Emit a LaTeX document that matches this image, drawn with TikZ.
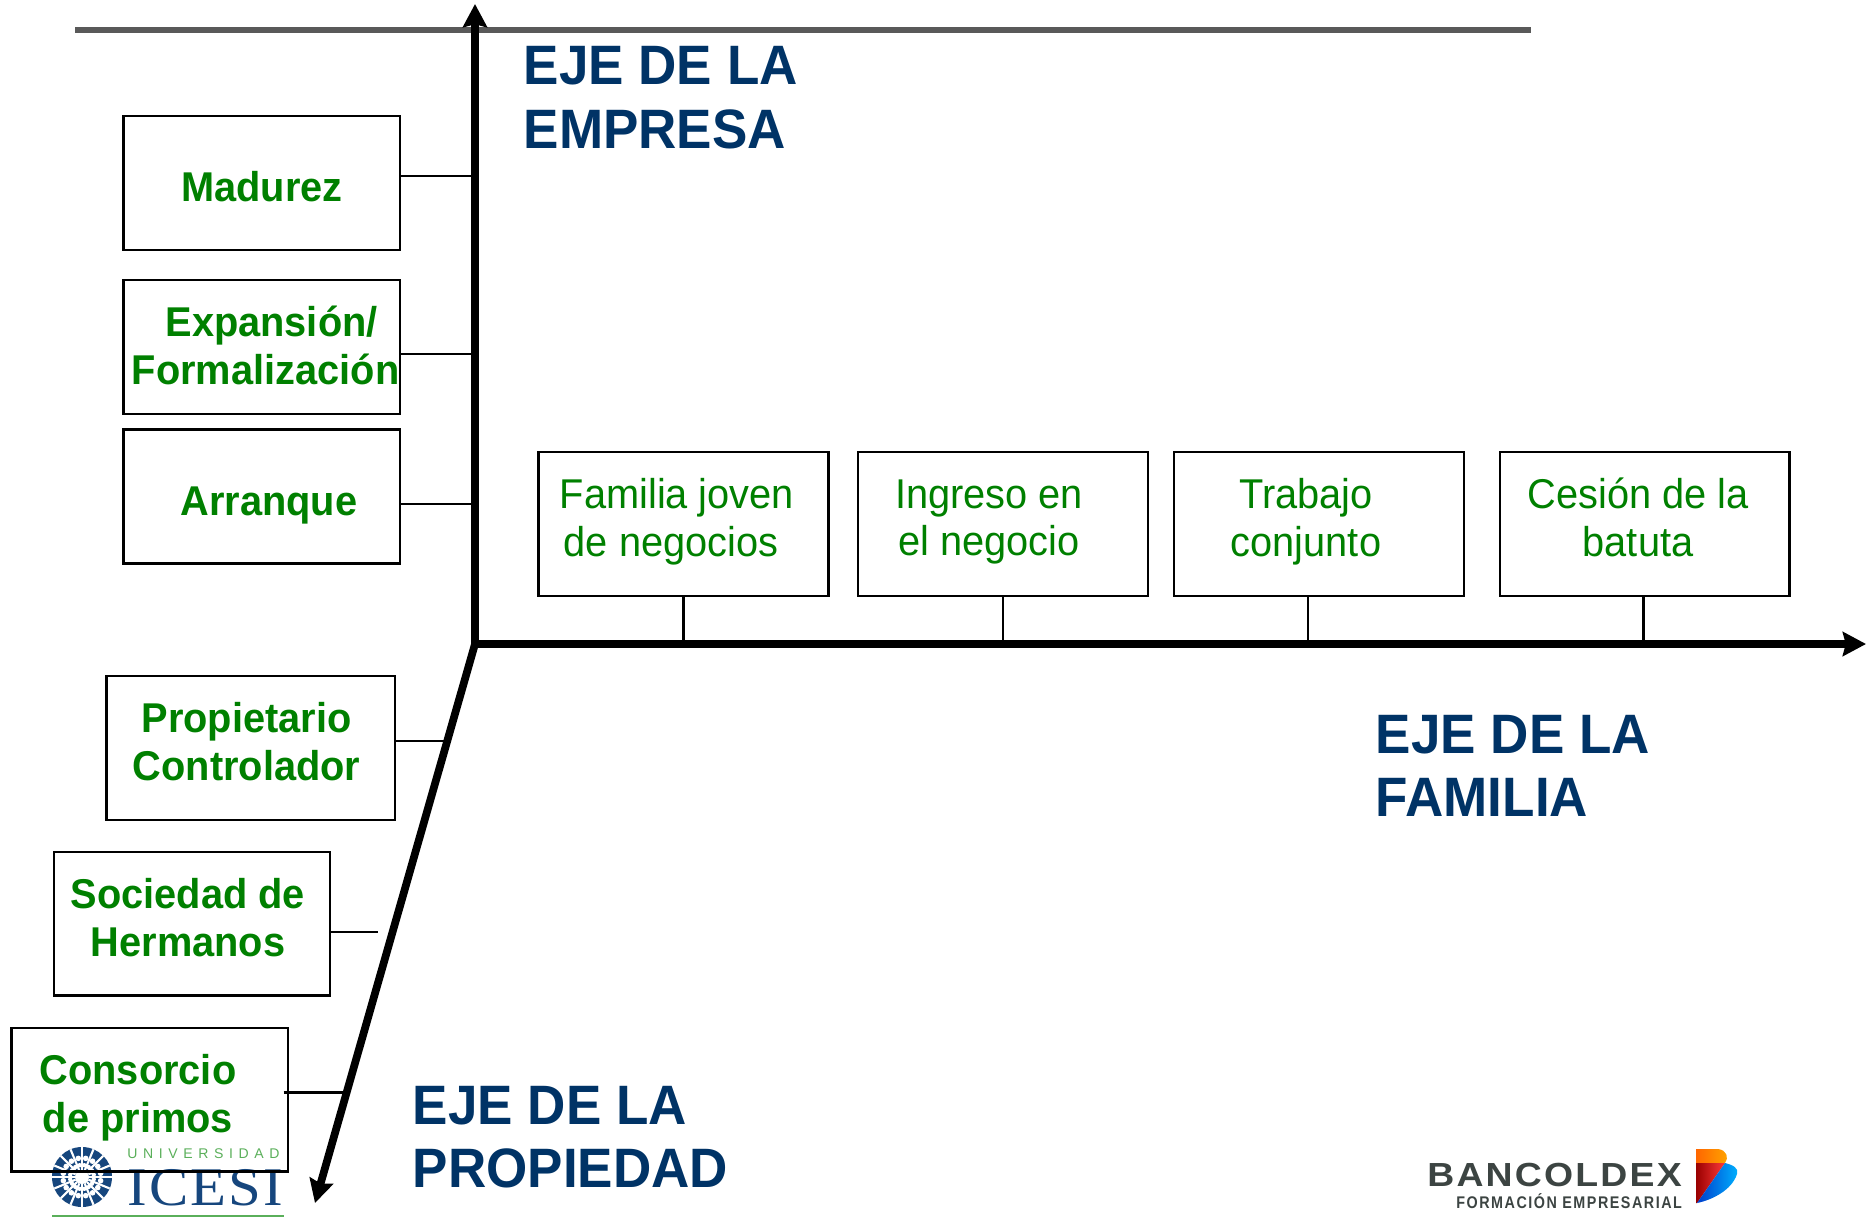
\documentclass[tikz,border=0pt]{standalone}
\usepackage{fontspec}
\setmainfont[FakeStretch=0.955]{Liberation Sans}
\newfontfamily\bancofont[LetterSpace=6.6,FakeStretch=1.12]{Liberation Sans}
\newfontfamily\formafont[LetterSpace=9,FakeStretch=0.85]{Liberation Sans}
\newfontfamily\univfont[LetterSpace=40]{Liberation Sans}
\newfontfamily\icesifont[LetterSpace=4,FakeStretch=1.08]{Liberation Serif}
\usetikzlibrary{arrows.meta,positioning}

\definecolor{ejeazul}{RGB}{0,51,102}
\definecolor{ejeverde}{RGB}{0,128,0}
\definecolor{lineagris}{RGB}{89,89,89}
\definecolor{icesiazul}{RGB}{22,70,125}
\definecolor{icesiverde}{RGB}{90,175,90}
\definecolor{bancogris}{RGB}{60,68,66}

\tikzset{
    etapa/.style={draw, line width=1.35pt, minimum width=157.3pt, minimum height=76.3pt, inner sep=0pt},
    etapafam/.style={draw, line width=1.35pt, minimum width=164.9pt, minimum height=81.8pt, inner sep=0pt},
    textob/.style={text=ejeverde, font=\fontsize{23.7}{27.3}\selectfont\bfseries, align=center, inner sep=0pt},
    textof/.style={text=ejeverde, font=\fontsize{23.7}{27.3}\selectfont, align=center, inner sep=0pt},
    ejetexto/.style={text=ejeazul, font=\fontsize{31.6}{36.1}\selectfont\bfseries, align=left, anchor=west, inner sep=0pt},
    punta/.style={-{Stealth[length=13.2pt, width=13.7pt, inset=1.7pt]}},
    eje/.style={line width=4.55pt, line cap=rect, punta},
    conector/.style={line width=1.35pt}
}

\begin{document}
\begin{tikzpicture}[x=0.02cm, y=-0.02cm]
        \useasboundingbox (0,0) rectangle (1876,1217);

        % logo icesi
        \fill[icesiazul] (82,1177) circle (30);
        \foreach \a in {0,22.5,...,337.5} {
            \draw[white, line width=1.2pt] (82,1177) ++(\a:7) -- ++(\a:23);
            \fill[white] (82,1177) ++(\a+11.25:19) circle (2.8);
            \fill[white] (82,1177) ++(\a+11.25:12) circle (2.2);
        }
        \fill[white] (82,1177) circle (7);
        \node[text=icesiverde, font=\fontsize{8}{9}\univfont, anchor=west, inner sep=0pt] (univ) at (127,1154) {UNIVERSIDAD};
        \node[text=icesiazul, font=\fontsize{31}{31}\icesifont, anchor=west, inner sep=0pt] (icesi) at (127,1187.5) {ICESI};
        \draw[icesiverde, line width=1.2pt] (52,1216) -- (284,1216);

        % logo bancoldex
        \node[text=bancogris, font=\fontsize{19}{20}\bancofont\bfseries, anchor=west, inner sep=0pt] (banco) at (1427,1175) {BANCOLDEX};
        \node[text=bancogris, font=\fontsize{9.6}{11}\formafont\bfseries, anchor=west, inner sep=0pt] (forma) at (1456,1201) {FORMACIÓN EMPRESARIAL};
        \shade[left color=orange!80!red, right color=orange!70!yellow] (1696,1149) -- (1718,1149) .. controls (1727,1150) and (1729,1158) .. (1725,1163) -- (1696,1163) -- cycle;
        \shade[left color=red!60!black, right color=red!70!pink] (1696,1163) -- (1725,1163) -- (1697,1203) -- (1696,1203) -- cycle;
        \shade[left color=blue!70!cyan!80!black, right color=cyan!70!blue] (1725,1163) .. controls (1733,1165) and (1739,1168) .. (1737,1174) .. controls (1732,1190) and (1712,1200) .. (1697,1203) -- cycle;

        % ejes
        \coordinate (origen) at (475,644);
        \coordinate (ejearriba) at (475,4);
        \coordinate (ejederecha) at (1866,644);
        \coordinate (ejeabajo) at (315,1203);
        \coordinate (grisizq) at (75.4,29.7);
        \coordinate (grisder) at (1531,29.7);

        \draw[lineagris, line width=3.4pt] (grisizq) -- (grisder);
        \draw[eje] (origen) -- (ejearriba);
        \draw[eje] (origen) -- (ejederecha);
        \draw[eje, line width=4.4pt] (origen) -- (ejeabajo);

        % eje de la empresa
        \node[etapa] (madurez) at (261.5,183) {};
        \node[etapa] (expansion) at (261.5,347) {};
        \node[etapa] (arranque) at (261.5,496.6) {};
        \node[textob] (tmadurez) at (262,187) {Madurez};
        \node[textob] (texpansion) at (265.6,345.3) {\hspace*{6.8pt}Expansión/\\Formalización};
        \node[textob] (tarranque) at (269,505) {Arranque};

        \coordinate (cmadurez) at (475,176);
        \coordinate (cexpansion) at (475,354);
        \coordinate (carranque) at (475,504);
        \draw[conector] (madurez.east |- cmadurez) -- (cmadurez);
        \draw[conector] (expansion.east |- cexpansion) -- (cexpansion);
        \draw[conector] (arranque.east |- carranque) -- (carranque);

        % eje de la familia
        \node[etapafam] (familia) at (683.5,524) {};
        \node[etapafam] (ingreso) at (1003,524) {};
        \node[etapafam] (trabajo) at (1319,524) {};
        \node[etapafam] (cesion) at (1644.7,524) {};
        \node[textof] (tfamilia) at (671,522) {\hspace*{6.8pt}Familia joven\\de negocios};
        \node[textof] (tingreso) at (989,522) {Ingreso en\\el negocio};
        \node[textof] (ttrabajo) at (1306,522) {Trabajo\\conjunto};
        \node[textof] (tcesion) at (1638,517.4) {Cesión de la\\batuta};

        \coordinate (cfamilia) at (683.5,644);
        \coordinate (cingreso) at (1003,644);
        \coordinate (ctrabajo) at (1308,644);
        \coordinate (ccesion) at (1643.5,644);
        \draw[conector] (familia.south -| cfamilia) -- (cfamilia);
        \draw[conector] (ingreso.south -| cingreso) -- (cingreso);
        \draw[conector] (trabajo.south -| ctrabajo) -- (ctrabajo);
        \draw[conector] (cesion.south -| ccesion) -- (ccesion);

        % eje de la propiedad
        \node[etapafam, minimum width=164.2pt] (propietario) at (250.8,748) {};
        \node[etapa, minimum height=81.8pt] (sociedad) at (192,923.8) {};
        \node[etapa, minimum height=81.8pt] (consorcio) at (149.6,1099.7) {};
        \node[textob] (tpropietario) at (246.5,741.4) {Propietario\\Controlador};
        \node[textob] (tsociedad) at (188,917.4) {Sociedad de\\Hermanos};
        \node[textob] (tconsorcio) at (138,1098) {Consorcio\\de primos};

        \coordinate (cpropietario) at (446,741);
        \coordinate (csociedad) at (378,932);
        \coordinate (cconsorcio) at (345,1092.5);
        \coordinate (iconsorcio) at (283.7,1092.5);
        \draw[conector] (propietario.east |- cpropietario) -- (cpropietario);
        \draw[conector] (sociedad.east |- csociedad) -- (csociedad);
        \draw[conector] (iconsorcio) -- (cconsorcio);

        \node[ejetexto] (ejeempresa) at (523.4,97.5) {EJE DE LA\\EMPRESA};
        \node[ejetexto] (ejefamilia) at (1375.6,766) {EJE DE LA\\FAMILIA};
        \node[ejetexto] (ejepropiedad) at (412.6,1137.2) {EJE DE LA\\PROPIEDAD};
    \end{tikzpicture}
\end{document}
